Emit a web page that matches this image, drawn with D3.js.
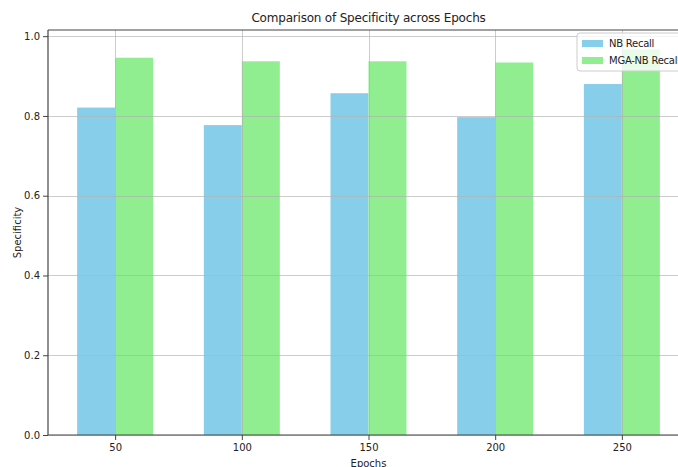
<!DOCTYPE html>
<html>
<head>
<meta charset="utf-8">
<script src="https://cdn.jsdelivr.net/npm/d3@7"></script>
<style>
body { margin: 0; background: #fff; }
svg { display: block; font-family: "DejaVu Sans", sans-serif; }
</style>
</head>
<body>
<svg id="chart" width="678" height="467"></svg>
<script>
const epochs = [50, 100, 150, 200, 250];
const nbRecall = [0.821, 0.777, 0.857, 0.797, 0.880];
const mgaRecall = [0.946, 0.937, 0.937, 0.934, 0.967];
const seriesNames = ["NB Recall", "MGA-NB Recall"];
const seriesColors = ["#87CEEB", "#90EE90"];
const yTicks = [0.0, 0.2, 0.4, 0.6, 0.8, 1.0];
const barWidth = 15;

const svg = d3.select("#chart");
const mLeft = 48, mRight = 689, mTop = 30, mBottom = 435;

const x = d3.scaleLinear().domain([23.5, 276.5]).range([mLeft, mRight]);
const y = d3.scaleLinear().domain([0, 1.0155]).range([mBottom, mTop]);

const series = [nbRecall, mgaRecall];
const offsets = [-barWidth / 2, barWidth / 2];

// bars
series.forEach((vals, si) => {
  svg.append("g").selectAll("rect")
    .data(epochs.map((e, i) => ({ e, v: vals[i] })))
    .join("rect")
    .attr("x", d => x(d.e + offsets[si] - barWidth / 2))
    .attr("width", d => x(d.e + offsets[si] + barWidth / 2) - x(d.e + offsets[si] - barWidth / 2))
    .attr("y", d => y(d.v))
    .attr("height", d => y(0) - y(d.v))
    .attr("fill", seriesColors[si]);
});

// grid (drawn above bars)
const grid = svg.append("g").attr("stroke", "#b0b0b0").attr("stroke-opacity", 0.65).attr("stroke-width", 1);
grid.selectAll("line.h").data(yTicks).join("line")
  .attr("x1", mLeft).attr("x2", mRight)
  .attr("y1", d => Math.round(y(d)) + 0.5).attr("y2", d => Math.round(y(d)) + 0.5);
grid.selectAll("line.v").data(epochs).join("line")
  .attr("y1", mTop).attr("y2", mBottom)
  .attr("x1", d => Math.round(x(d)) + 0.5).attr("x2", d => Math.round(x(d)) + 0.5);

// axes
const yAxis = d3.axisLeft(y).tickValues(yTicks).tickFormat(d3.format(".1f")).tickSize(5).tickPadding(3);
const xAxis = d3.axisBottom(x).tickValues(epochs).tickFormat(d3.format("d")).tickSize(5).tickPadding(4);

const gy = svg.append("g").attr("transform", `translate(${mLeft},0)`).call(yAxis);
const gx = svg.append("g").attr("transform", `translate(0,${mBottom})`).call(xAxis);
[gx, gy].forEach(g => {
  g.select(".domain").remove();
  g.selectAll(".tick line").attr("stroke", "#444");
  g.selectAll(".tick text").attr("fill", "#222").style("font-size", "10px").style("font-family", "DejaVu Sans, sans-serif");
});

// spines
svg.append("line").attr("x1", mLeft).attr("x2", mLeft).attr("y1", mTop).attr("y2", mBottom)
  .attr("stroke", "#444").attr("stroke-width", 1.2);
svg.append("line").attr("x1", mLeft).attr("x2", mRight).attr("y1", mBottom).attr("y2", mBottom)
  .attr("stroke", "#444").attr("stroke-width", 1.2);
svg.append("line").attr("x1", mLeft).attr("x2", mRight).attr("y1", mTop).attr("y2", mTop)
  .attr("stroke", "#444").attr("stroke-width", 1.2);

// title and labels
svg.append("text").attr("x", (mLeft + mRight) / 2).attr("y", 22).attr("text-anchor", "middle")
  .style("font-size", "12px").style("letter-spacing", "-0.2px").attr("fill", "#222").text("Comparison of Specificity across Epochs");
svg.append("text").attr("x", (mLeft + mRight) / 2).attr("y", 467).attr("text-anchor", "middle")
  .style("font-size", "10px").attr("fill", "#222").text("Epochs");
svg.append("text").attr("transform", `translate(21,${(mTop + mBottom) / 2}) rotate(-90)`).attr("text-anchor", "middle")
  .style("font-size", "10px").attr("fill", "#222").text("Specificity");

// legend
const lg = svg.append("g").attr("transform", "translate(577,33)");
lg.append("rect").attr("width", 125).attr("height", 38).attr("rx", 3)
  .attr("fill", "#fff").attr("fill-opacity", 0.8).attr("stroke", "#ccc");
seriesNames.forEach((n, i) => {
  lg.append("rect").attr("x", 5).attr("y", 7 + i * 17).attr("width", 21).attr("height", 7).attr("fill", seriesColors[i]);
  lg.append("text").attr("x", 32).attr("y", 14 + i * 17).style("font-size", "10px").style("letter-spacing", "-0.25px")
    .attr("fill", "#222").text(n);
});
</script>
</body>
</html>
